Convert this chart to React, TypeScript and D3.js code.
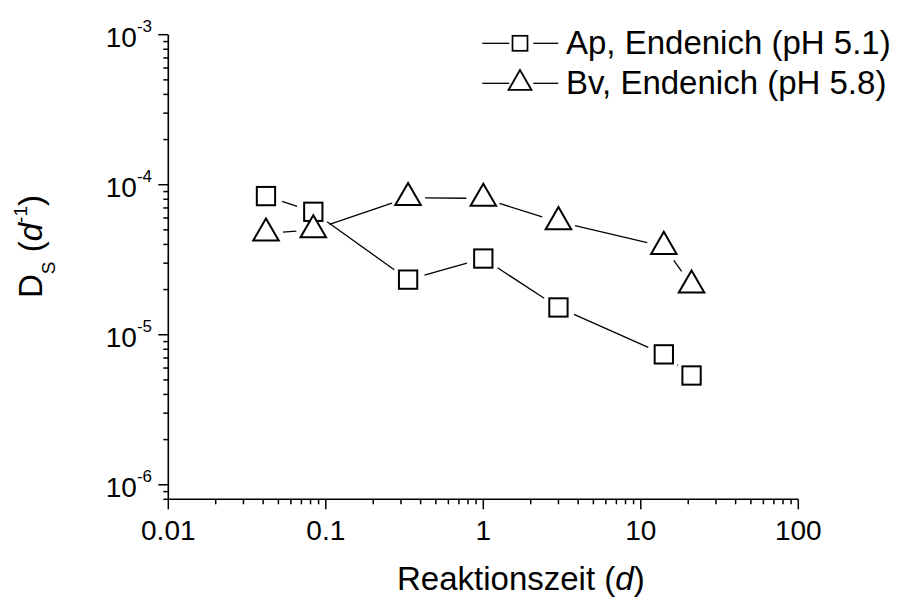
import React from "react";
import * as d3 from "d3";

// ---- data ----
const TIMES = [0.0417, 0.0833, 0.333, 1, 3, 14, 21];
const AP_VALUES = [8.4e-5, 6.6e-5, 2.33e-5, 3.22e-5, 1.52e-5, 7.4e-6, 5.35e-6];
const BV_VALUES = [4.75e-5, 5.0e-5, 8.2e-5, 8.1e-5, 5.66e-5, 3.87e-5, 2.14e-5];
const SERIES_NAMES = ["Ap, Endenich (pH 5.1)", "Bv, Endenich (pH 5.8)"];
const X_TICKS = [0.01, 0.1, 1, 10, 100];
const X_TICK_LABELS = ["0.01", "0.1", "1", "10", "100"];
const Y_TICKS = [1e-6, 1e-5, 1e-4, 1e-3];
const Y_TICK_EXPONENTS = ["-6", "-5", "-4", "-3"];

const W = 898;
const H = 601;
const FONT = "'Liberation Sans', Arial, Helvetica, sans-serif";

const x = d3.scaleLog().domain([0.01, 100]).range([168.3, 798.3]);
const y = d3.scaleLog().domain([8e-7, 1e-3]).range([499.3, 34.7]);

type P = [number, number];

function gappedSegments(pts: P[], gap: number) {
  const segs: { x1: number; y1: number; x2: number; y2: number }[] = [];
  for (let i = 0; i < pts.length - 1; i++) {
    const [ax, ay] = pts[i];
    const [bx, by] = pts[i + 1];
    const dx = bx - ax;
    const dy = by - ay;
    const d = Math.hypot(dx, dy);
    if (d <= 2 * gap) continue;
    const ux = dx / d;
    const uy = dy / d;
    segs.push({ x1: ax + ux * gap, y1: ay + uy * gap, x2: bx - ux * gap, y2: by - uy * gap });
  }
  return segs;
}

function Square({ cx, cy, s, sw }: { cx: number; cy: number; s: number; sw: number }) {
  return (
    <rect x={cx - s / 2} y={cy - s / 2} width={s} height={s} fill="white" stroke="black" strokeWidth={sw} />
  );
}

function Triangle({ cx, cy, side, sw }: { cx: number; cy: number; side: number; sw: number }) {
  const h = (side * Math.sqrt(3)) / 2;
  const pts = [
    [cx, cy - (2 * h) / 3],
    [cx - side / 2, cy + h / 3],
    [cx + side / 2, cy + h / 3],
  ]
    .map((p) => p.join(","))
    .join(" ");
  return <polygon points={pts} fill="white" stroke="black" strokeWidth={sw} strokeLinejoin="miter" />;
}

export default function App() {
  const apPts: P[] = TIMES.map((t, i) => [x(t), y(AP_VALUES[i])]);
  const bvPts: P[] = TIMES.map((t, i) => [x(t), y(BV_VALUES[i])]);
  const GAP = 17;

  const xMinor = x.ticks().filter((t) => !X_TICKS.some((m) => Math.abs(Math.log10(m) - Math.log10(t)) < 1e-6));
  const yMinor = y.ticks().filter((t) => !Y_TICKS.some((m) => Math.abs(Math.log10(m) - Math.log10(t)) < 1e-6));

  const [x0, x1] = x.range();
  const [y0, y1] = y.range();

  return (
    <svg
      width={W}
      height={H}
      viewBox={`0 0 ${W} ${H}`}
      style={{ position: "absolute", left: 0, top: 0, background: "white" }}
      fontFamily={FONT}
    >
      <rect x={0} y={0} width={W} height={H} fill="white" />

      {/* axes */}
      <line x1={x0} y1={y0} x2={x1} y2={y0} stroke="black" strokeWidth={1.6} />
      <line x1={x0} y1={y0} x2={x0} y2={y1} stroke="black" strokeWidth={1.6} />

      {/* x ticks */}
      {X_TICKS.map((t) => (
        <line key={"xM" + t} x1={x(t)} x2={x(t)} y1={y0} y2={y0 + 10} stroke="black" strokeWidth={1.5} />
      ))}
      {xMinor.map((t) => (
        <line key={"xm" + t} x1={x(t)} x2={x(t)} y1={y0} y2={y0 + 5} stroke="black" strokeWidth={1.5} />
      ))}
      {X_TICKS.map((t, i) => (
        <text key={"xl" + t} x={x(t)} y={540} textAnchor="middle" fontSize={28} fill="black">
          {X_TICK_LABELS[i]}
        </text>
      ))}

      {/* y ticks */}
      {Y_TICKS.map((t) => (
        <line key={"yM" + t} x1={x0 - 10} x2={x0} y1={y(t)} y2={y(t)} stroke="black" strokeWidth={1.5} />
      ))}
      {yMinor.map((t) => (
        <line key={"ym" + t} x1={x0 - 5} x2={x0} y1={y(t)} y2={y(t)} stroke="black" strokeWidth={1.5} />
      ))}
      {Y_TICKS.map((t, i) => (
        <text key={"yl" + t} x={152} y={y(t) + 12.5} textAnchor="end" fontSize={28} fill="black">
          <tspan>10</tspan>
          <tspan fontSize={17} dy={-15}>
            {Y_TICK_EXPONENTS[i]}
          </tspan>
        </text>
      ))}

      {/* series lines */}
      {gappedSegments(apPts, GAP).map((s, i) => (
        <line key={"al" + i} {...s} stroke="black" strokeWidth={1.3} />
      ))}
      {gappedSegments(bvPts, GAP).map((s, i) => (
        <line key={"bl" + i} {...s} stroke="black" strokeWidth={1.3} />
      ))}

      {/* markers */}
      {apPts.map(([cx, cy], i) => (
        <Square key={"as" + i} cx={cx} cy={cy} s={18.3} sw={2} />
      ))}
      {bvPts.map(([cx, cy], i) => (
        <Triangle key={"bt" + i} cx={cx} cy={cy} side={25.5} sw={2} />
      ))}

      {/* axis titles */}
      <text x={397} y={590} fontSize={33} fill="black">
        <tspan>Reaktionszeit (</tspan>
        <tspan fontStyle="italic">d</tspan>
        <tspan>)</tspan>
      </text>
      <text transform="translate(42,298) rotate(-90)" fontSize={33} fill="black">
        <tspan>D</tspan>
        <tspan fontSize={19} dy={13}>S</tspan>
        <tspan dy={-13}> (</tspan>
        <tspan fontStyle="italic">d</tspan>
        <tspan fontSize={19} dy={-15}>-1</tspan>
        <tspan dy={15}>)</tspan>
      </text>

      {/* legend */}
      {[43.3, 83.3].map((ly, i) => (
        <g key={"lg" + i}>
          <line x1={482.3} x2={509.3} y1={ly} y2={ly} stroke="black" strokeWidth={1.3} />
          <line x1={533.3} x2={558.3} y1={ly} y2={ly} stroke="black" strokeWidth={1.3} />
          {i === 0 ? (
            <Square cx={520} cy={ly} s={15} sw={1.7} />
          ) : (
            <Triangle cx={520} cy={ly} side={23} sw={1.8} />
          )}
          <text x={566} y={ly + 11} fontSize={33} fill="black">
            {SERIES_NAMES[i]}
          </text>
        </g>
      ))}
    </svg>
  );
}
